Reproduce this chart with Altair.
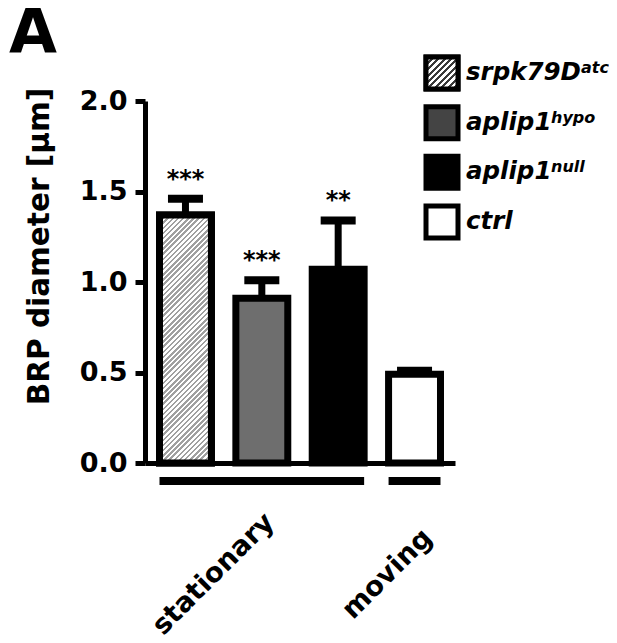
import altair as alt
import pandas as pd

# ---------------- data ----------------
categories = ["srpk79D atc", "aplip1 hypo", "aplip1 null", "ctrl"]
means = [1.37, 0.91, 1.07, 0.49]
sems = [0.09, 0.10, 0.27, 0.02]
stars = ["***", "***", "**", ""]
fills = ["#ffffff", "#6e6e6e", "#000000", "#ffffff"]
legend_fills = ["#ffffff", "#444444", "#000000", "#ffffff"]
legend_main = ["srpk79D", "aplip1", "aplip1", "ctrl"]
legend_sup = ["atc", "hypo", "null", ""]
groups = ["stationary", "moving"]
group_first = [categories[0], categories[3]]
group_last = [categories[2], categories[3]]
group_anchor = [categories[1], categories[3]]
y_ticks = [0.0, 0.5, 1.0, 1.5, 2.0]

df = pd.DataFrame({"cat": categories, "mean": means, "sem": sems, "stars": stars})
gdf = pd.DataFrame({"group": groups, "first": group_first, "last": group_last, "anchor": group_anchor})
ldf = pd.DataFrame({"cat": categories, "main": legend_main, "sup": legend_sup})

# ---------------- layout / style ----------------
W, H = 310, 362
P_IN, P_OUT = 0.32, 0.19
FONT = "DejaVu Sans"
step = W / (len(categories) - P_IN + 2 * P_OUT)
bw = step * (1 - P_IN)


def hatch(w, h, period, color, frac=0.5):
    k = (w + h) / (w * w + h * h)
    n = max(1, round((w + h) / period))
    stops = []
    for i in range(n):
        t0, t1, t2 = i / n, (i + frac) / n, (i + 1) / n
        stops += [alt.GradientStop(offset=t0, color=color), alt.GradientStop(offset=t1, color=color),
                  alt.GradientStop(offset=t1, color="#ffffff"), alt.GradientStop(offset=t2, color="#ffffff")]
    return alt.LinearGradient(gradient="linear", x1=0, y1=0, x2=w * k, y2=h * k, stops=stops)


bar_grad = hatch(bw, means[0] * H / 2, 5.2, "#a0a0a0")
patch_grad = hatch(32, 32, 6.4, "#3a3a3a", 0.45)

xscale = alt.Scale(domain=categories, paddingInner=P_IN, paddingOuter=P_OUT)
yscale = alt.Scale(domain=[0, 2], nice=False)
fill_scale = alt.Scale(domain=categories, range=fills)
legend_fill_scale = alt.Scale(domain=categories, range=legend_fills)

y_axis = alt.Axis(values=y_ticks, format=".1f", grid=False, title="BRP diameter [µm]",
                  domainColor="black", domainWidth=5, tickColor="black", tickWidth=5, tickSize=10,
                  labelFont=FONT, labelFontSize=27, labelFontWeight="bold", labelColor="black",
                  labelPadding=8, titleFont=FONT, titleFontSize=29.5, titleFontWeight="bold",
                  titleColor="black", titlePadding=25, titleY=145)
x_axis = alt.Axis(labels=False, ticks=False, title=None, domainColor="black", domainWidth=5)

base = alt.Chart(df).transform_calculate(top="datum.mean + datum.sem")

bars = base.mark_bar(stroke="black", strokeWidth=7).encode(
    x=alt.X("cat:N", scale=xscale, axis=x_axis),
    y=alt.Y("mean:Q", scale=yscale, axis=y_axis),
    fill=alt.Fill("cat:N", scale=fill_scale, legend=None),
)
hatch_bar = base.transform_filter(alt.datum.cat == categories[0]).mark_bar(
    stroke="black", strokeWidth=7, fill=bar_grad).encode(x="cat:N", y="mean:Q")
stem = base.mark_rule(strokeWidth=7, color="black").encode(x="cat:N", y="mean:Q", y2="top:Q")
cap = base.mark_tick(thickness=8, size=35, color="black", opacity=1).encode(x="cat:N", y="top:Q")
star_text = base.mark_text(dy=-12, baseline="alphabetic", fontSize=24, font=FONT, fontWeight="bold",
                           color="black").encode(x="cat:N", y="top:Q", text="stars:N")

group_rule = alt.Chart(gdf).mark_rule(strokeWidth=8, strokeCap="butt", color="black").encode(
    x=alt.X("first:N", bandPosition=0),
    x2=alt.X2("last", bandPosition=1),
    y=alt.datum(-0.1),
)
lab_kw = dict(angle=315, align="center", baseline="middle", fontSize=27.5, font=FONT,
              fontWeight="bold", color="black")
lab_st = alt.Chart(gdf).transform_filter(alt.datum.group == groups[0]).mark_text(
    dx=-34, dy=-34, **lab_kw).encode(x="anchor:N", y=alt.datum(-0.615), text="group:N")
lab_mv = alt.Chart(gdf).transform_filter(alt.datum.group == groups[1]).mark_text(
    dx=-19, dy=-19, **lab_kw).encode(x="anchor:N", y=alt.datum(-0.615), text="group:N")

main = alt.layer(bars, hatch_bar, stem, cap, star_text, group_rule, lab_st, lab_mv)

# ---------------- legend ----------------
ly = alt.Y("cat:N", scale=alt.Scale(type="point", domain=categories, range=[-28, 121], padding=0), axis=None)
LX = 297
patches = alt.Chart(ldf).mark_square(size=1024, stroke="black", strokeWidth=5, opacity=1).encode(
    x=alt.value(LX), y=ly, fill=alt.Fill("cat:N", scale=legend_fill_scale, legend=None))
hatch_patch = alt.Chart(ldf).transform_filter(alt.datum.cat == categories[0]).mark_square(
    size=1024, stroke="black", strokeWidth=5, opacity=1, fill=patch_grad).encode(x=alt.value(LX), y=ly)
txt_kw = dict(font=FONT, fontWeight="bold", fontStyle="italic", color="black", align="left")
main_text = alt.Chart(ldf).mark_text(baseline="middle", fontSize=24.5, **txt_kw).encode(
    x=alt.value(LX + 24), y=ly, text="main:N")
sup_dx = [115, 85, 85]
sups = [alt.Chart(ldf).transform_filter(alt.datum.cat == categories[i]).mark_text(
    baseline="alphabetic", fontSize=16, dx=sup_dx[i], **txt_kw).encode(x=alt.value(LX + 24), y=ly, text="sup:N")
    for i in range(3)]
legend = alt.layer(patches, hatch_patch, main_text, *sups)

chart = alt.layer(main, legend).resolve_scale(y="independent", fill="independent").properties(
    width=W, height=H,
    autosize="none",
    padding={"left": 137, "top": 93, "right": 154, "bottom": 172},
    title=alt.TitleParams("A", anchor="start", frame="group", fontSize=62, font=FONT,
                          fontWeight="bold", color="black", dx=-136, dy=22),
).configure(font=FONT, background="white").configure_view(strokeWidth=0, stroke=None)

chart.save("out.html", embed_options={"renderer": "svg", "actions": False})
